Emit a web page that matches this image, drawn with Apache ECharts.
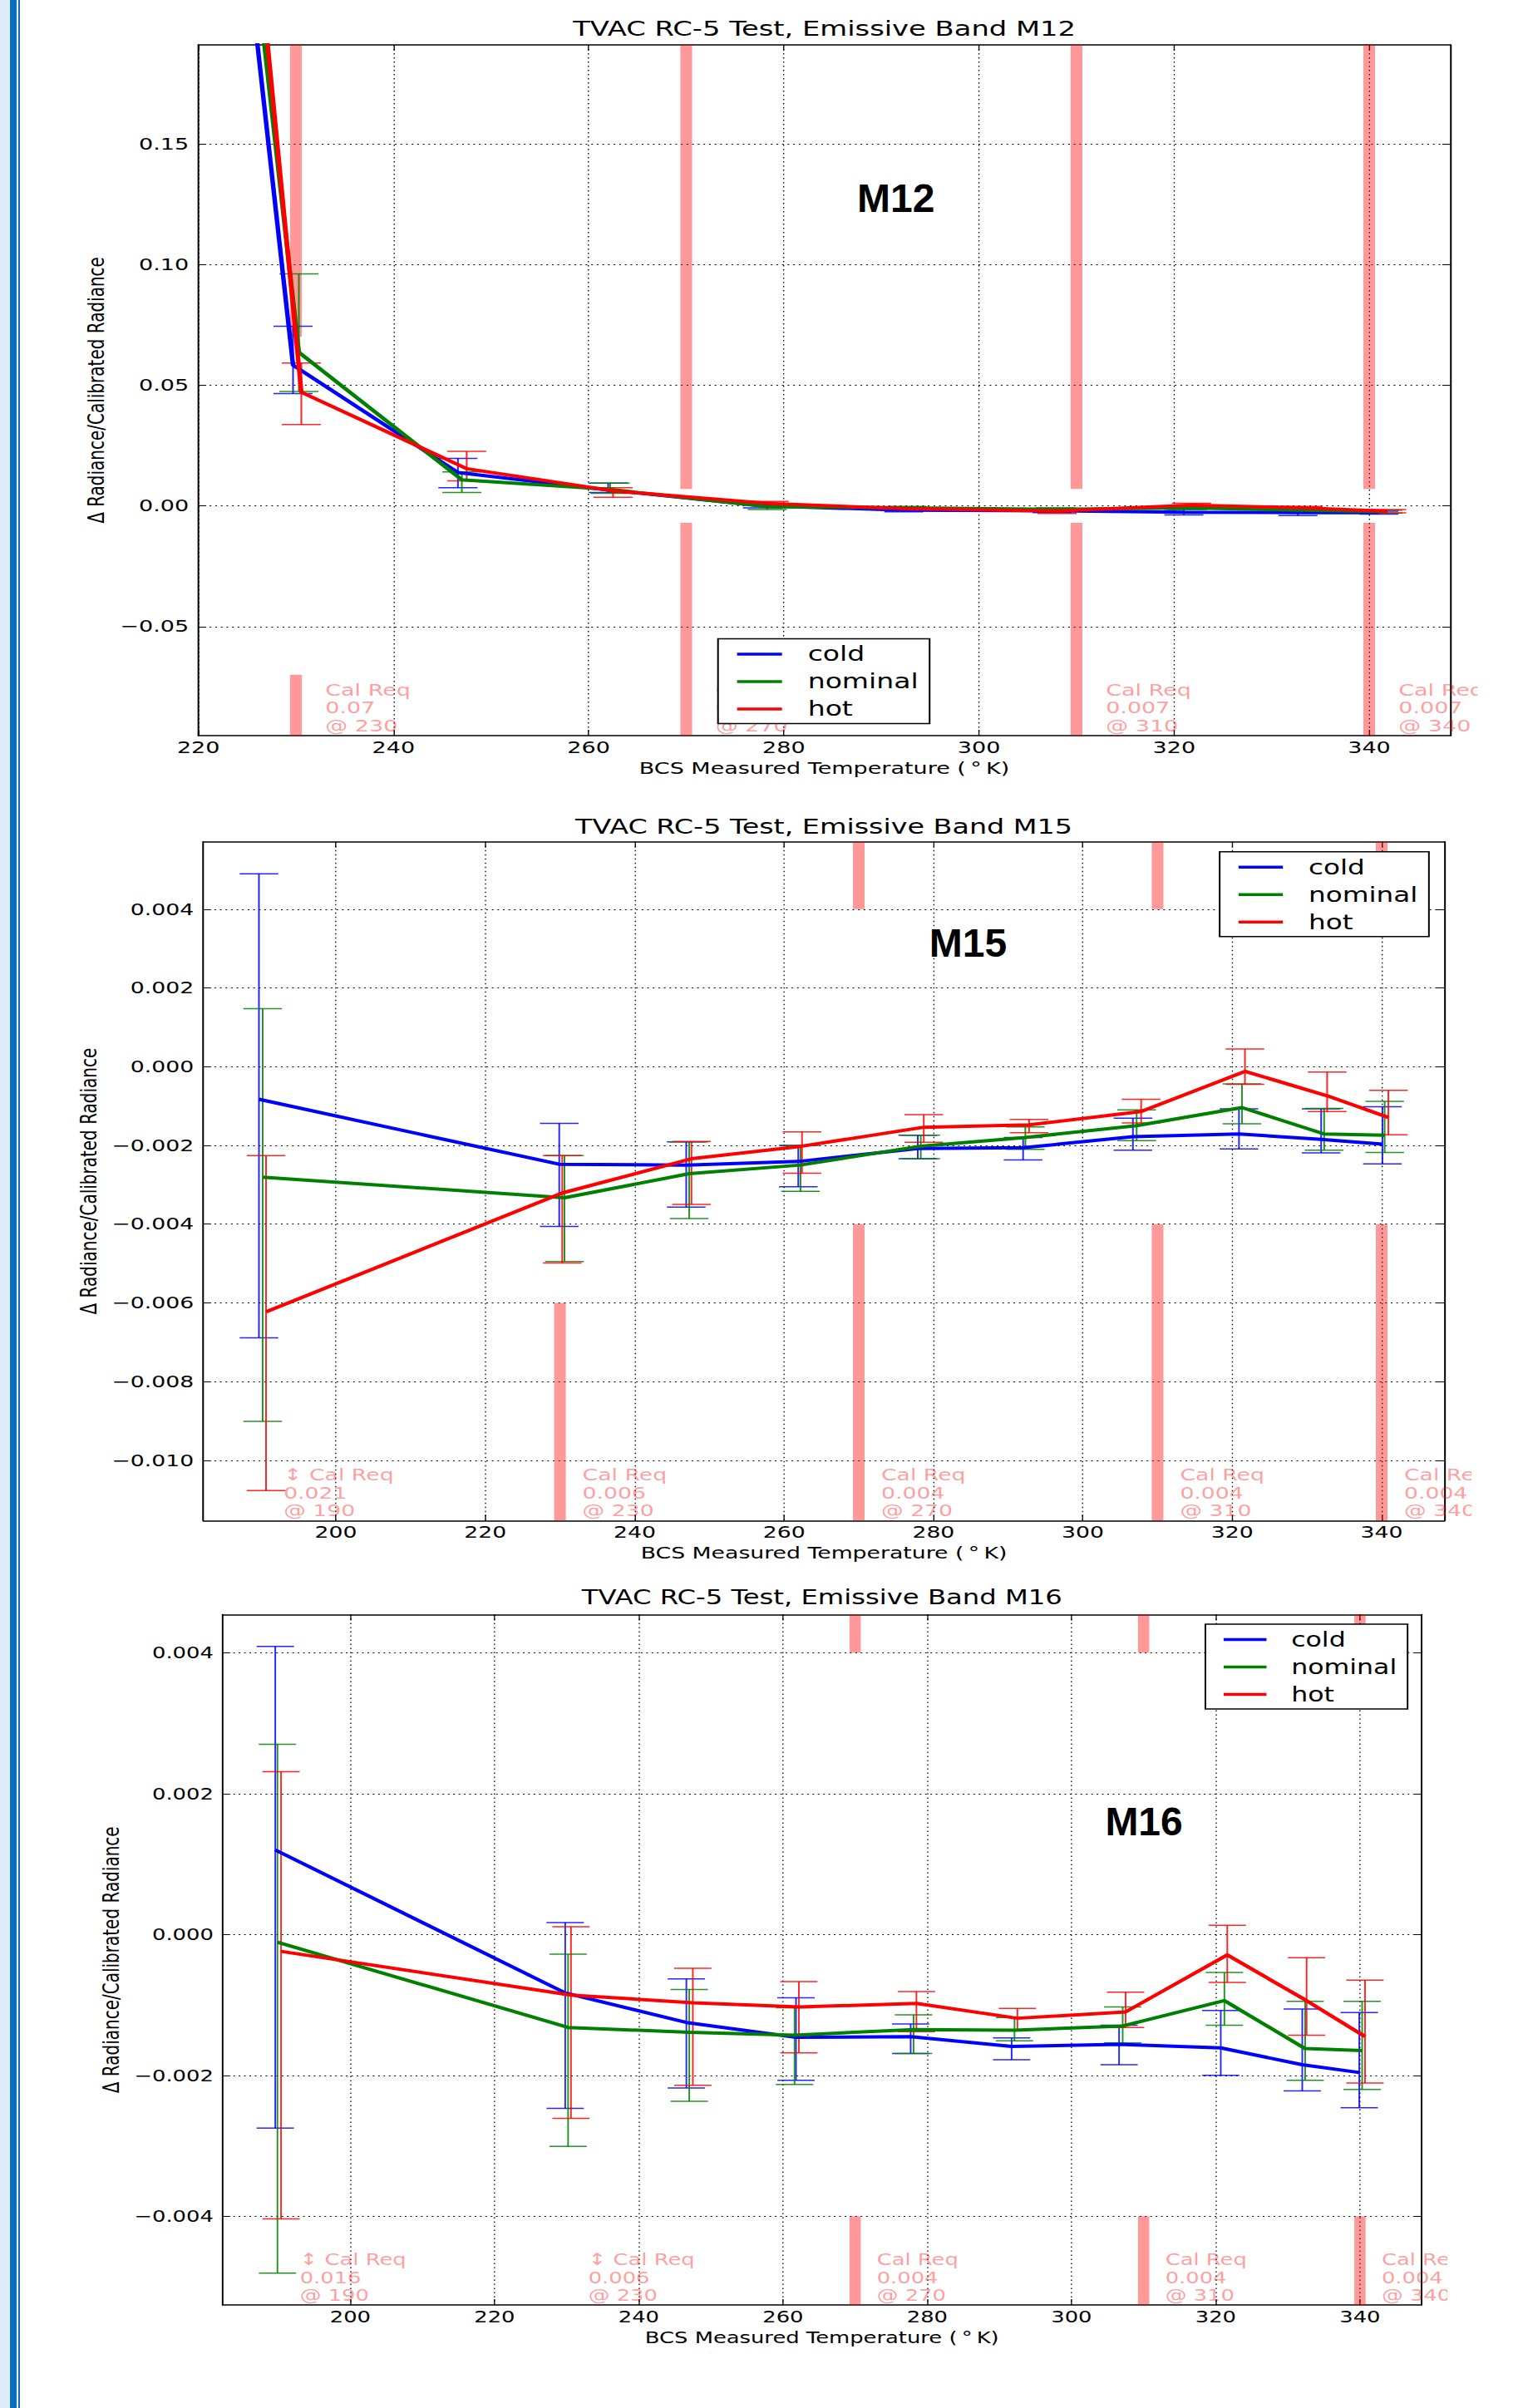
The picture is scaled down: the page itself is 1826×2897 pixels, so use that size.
<!DOCTYPE html>
<html>
<head>
<meta charset="utf-8">
<script src="https://cdn.jsdelivr.net/npm/echarts@6/dist/echarts.min.js"></script>
<style>
html, body { margin: 0; padding: 0; background: #fff; width: 1826px; height: 2897px; overflow: hidden; position: relative; }
.strip1 { position: absolute; left: 0; top: 0; width: 12px; height: 2897px; background: #dcecfb; }
.strip2 { position: absolute; left: 12px; top: 0; width: 7.5px; height: 2897px; background: #0b6fc0; }
.strip3 { position: absolute; left: 21.5px; top: 0; width: 2.5px; height: 2897px; background: #0b6fc0; }
.chart { position: absolute; left: 24px; transform-origin: 0 0; overflow: hidden; }
</style>
</head>
<body>
<div class="strip1"></div><div class="strip2"></div><div class="strip3"></div>
<div id="c1" class="chart"></div>
<div id="c2" class="chart"></div>
<div id="c3" class="chart"></div>
<script>
// ---------------- DATA ----------------
const seriesNames = ['cold', 'nominal', 'hot'];

// Band M12
const m12Title = 'TVAC RC-5 Test, Emissive Band M12';
const m12XTicks = [220, 240, 260, 280, 300, 320, 340];
const m12YTicks = [-0.05, 0, 0.05, 0.10, 0.15];
const m12ColdX  = [225.4, 229.7, 246.6, 262.0, 277.8, 292.3, 307.5, 321.0, 332.7, 341.0];
const m12ColdY  = [0.215, 0.0583, 0.0138, 0.0066, 0.0000, -0.0018, -0.0020, -0.0026, -0.0028, -0.0028];
const m12ColdLo = [0.200, 0.0465, 0.0075, 0.0055, -0.0008, -0.0025, -0.0028, -0.0038, -0.0040, -0.0034];
const m12ColdHi = [0.230, 0.0744, 0.0197, 0.0094, 0.0008, -0.0011, -0.0012, -0.0014, -0.0016, -0.0022];
const m12NomX   = [225.8, 230.3, 247.0, 262.2, 278.3, 292.6, 307.8, 321.4, 333.0, 341.4];
const m12NomY   = [0.226, 0.0636, 0.0108, 0.0068, -0.0003, -0.0008, -0.0014, -0.0008, -0.0018, -0.0024];
const m12NomLo  = [0.210, 0.0474, 0.0055, 0.0052, -0.0015, -0.0014, -0.0020, -0.0015, -0.0024, -0.0030];
const m12NomHi  = [0.242, 0.0961, 0.0141, 0.0094, 0.0005, -0.0002, -0.0008, -0.0001, -0.0012, -0.0018];
const m12HotX   = [226.0, 230.55, 247.5, 262.5, 278.5, 292.8, 308.0, 321.8, 333.2, 341.8];
const m12HotY   = [0.237, 0.0471, 0.0154, 0.0062, 0.0010, -0.0012, -0.0021, 0.0003, -0.0008, -0.0022];
const m12HotLo  = [0.220, 0.0337, 0.0104, 0.0036, 0.0002, -0.0018, -0.0032, -0.0005, -0.0014, -0.0029];
const m12HotHi  = [0.254, 0.0592, 0.0226, 0.0075, 0.0018, -0.0006, -0.0010, 0.0011, -0.0002, -0.0015];
const m12ReqT   = [230, 270, 310, 340];
const m12ReqV   = [0.07, 0.007, 0.007, 0.007];

// Band M15
const m15Title = 'TVAC RC-5 Test, Emissive Band M15';
const m15XTicks = [200, 220, 240, 260, 280, 300, 320, 340];
const m15YTicks = [-0.010, -0.008, -0.006, -0.004, -0.002, 0, 0.002, 0.004];
const m15ColdX  = [189.7, 229.9, 246.9, 261.9, 277.9, 292.0, 306.7, 320.9, 331.9, 340.1];
const m15ColdY  = [-0.00083, -0.00248, -0.00250, -0.00241, -0.00208, -0.00206, -0.00178, -0.00171, -0.00185, -0.00197];
const m15ColdLo = [-0.00689, -0.00406, -0.00357, -0.00305, -0.00234, -0.00237, -0.00212, -0.00209, -0.00219, -0.00247];
const m15ColdHi = [0.00490, -0.00144, -0.00191, -0.00200, -0.00174, -0.00180, -0.00131, -0.00107, -0.00107, -0.00102];
const m15NomX   = [190.2, 230.6, 247.3, 262.2, 278.3, 292.3, 307.2, 321.3, 332.3, 340.4];
const m15NomY   = [-0.00281, -0.00333, -0.00272, -0.00250, -0.00202, -0.00180, -0.00150, -0.00104, -0.00171, -0.00174];
const m15NomLo  = [-0.00901, -0.00495, -0.00386, -0.00317, -0.00234, -0.00210, -0.00188, -0.00145, -0.00212, -0.00218];
const m15NomHi  = [0.00147, -0.00226, -0.00191, -0.00200, -0.00174, -0.00153, -0.00110, -0.00044, -0.00106, -0.00088];
const m15HotX   = [190.65, 230.3, 247.6, 262.4, 278.7, 292.8, 307.8, 321.7, 332.7, 340.9];
const m15HotY   = [-0.00623, -0.00321, -0.00234, -0.00202, -0.00154, -0.00148, -0.00114, -0.00012, -0.00074, -0.00129];
const m15HotLo  = [-0.01077, -0.00499, -0.00350, -0.00271, -0.00192, -0.00168, -0.00143, -0.00045, -0.00114, -0.00173];
const m15HotHi  = [-0.00226, -0.00226, -0.00190, -0.00166, -0.00122, -0.00134, -0.00083, 0.00045, -0.00014, -0.00060];
const m15ReqT   = [190, 230, 270, 310, 340];
const m15ReqV   = [0.021, 0.006, 0.004, 0.004, 0.004];

// Band M16
const m16Title = 'TVAC RC-5 Test, Emissive Band M16';
const m16XTicks = [200, 220, 240, 260, 280, 300, 320, 340];
const m16YTicks = [-0.004, -0.002, 0, 0.002, 0.004];
const m16ColdX  = [189.6, 229.8, 246.6, 261.8, 277.7, 291.7, 306.6, 320.7, 332.0, 339.9];
const m16ColdY  = [0.00120, -0.00083, -0.00125, -0.00146, -0.00145, -0.00159, -0.00156, -0.00161, -0.00185, -0.00196];
const m16ColdLo = [-0.00275, -0.00247, -0.00218, -0.00207, -0.00169, -0.00178, -0.00185, -0.00200, -0.00222, -0.00246];
const m16ColdHi = [0.00409, 0.00017, -0.00063, -0.00090, -0.00127, -0.00147, -0.00129, -0.00108, -0.00106, -0.00111];
const m16NomX   = [189.9, 230.2, 247.0, 261.6, 278.1, 292.1, 307.1, 321.2, 332.4, 340.3];
const m16NomY   = [-0.00011, -0.00132, -0.00139, -0.00143, -0.00135, -0.00136, -0.00130, -0.00094, -0.00162, -0.00165];
const m16NomLo  = [-0.00481, -0.00301, -0.00237, -0.00213, -0.00169, -0.00151, -0.00154, -0.00129, -0.00207, -0.00220];
const m16NomHi  = [0.00270, -0.00028, -0.00078, -0.00104, -0.00114, -0.00118, -0.00103, -0.00054, -0.00095, -0.00095];
const m16HotX   = [190.4, 230.6, 247.5, 262.2, 278.5, 292.5, 307.5, 321.6, 332.6, 340.7];
const m16HotY   = [-0.00024, -0.00086, -0.00097, -0.00103, -0.00098, -0.00119, -0.00110, -0.00029, -0.00094, -0.00145];
const m16HotLo  = [-0.00404, -0.00261, -0.00214, -0.00168, -0.00138, -0.00135, -0.00132, -0.00068, -0.00143, -0.00211];
const m16HotHi  = [0.00231, 0.00011, -0.00048, -0.00067, -0.00081, -0.00105, -0.00082, 0.00013, -0.00033, -0.00065];
const m16ReqT   = [190, 230, 270, 310, 340];
const m16ReqV   = [0.016, 0.006, 0.004, 0.004, 0.004];

const xAxisName = 'BCS Measured Temperature (\u2009\u00b0\u2009K)';
const yAxisName = '\u0394 Radiance/Calibrated Radiance';

// ---------------- STYLE ----------------
const COLORS = { cold: '#0000ff', nominal: '#008000', hot: '#ff0000' };
const FONT = 'DejaVu Sans';
const REQ_COLOR = 'rgba(255,0,0,0.4)';

function fmtTick(v, d) {
  if (Math.abs(v) < 1e-12) v = 0;
  return (v < 0 ? '\u2212' : '') + Math.abs(v).toFixed(d);
}

function errRender(color, capHalf, yMin, yMax) {
  return function (params, api) {
    const x = api.value(0), lo = api.value(1), hi = api.value(2);
    const cLo = Math.max(lo, yMin), cHi = Math.min(hi, yMax);
    if (cLo > cHi) return null;
    const p1 = api.coord([x, cLo]), p2 = api.coord([x, cHi]);
    const st = { stroke: color, lineWidth: 1.5, opacity: 0.85 };
    const ch = [{ type: 'line', shape: { x1: p1[0], y1: p1[1], x2: p2[0], y2: p2[1] }, style: st }];
    if (lo >= yMin) ch.push({ type: 'line', shape: { x1: p1[0] - capHalf, y1: p1[1], x2: p1[0] + capHalf, y2: p1[1] }, style: st });
    if (hi <= yMax) ch.push({ type: 'line', shape: { x1: p2[0] - capHalf, y1: p2[1], x2: p2[0] + capHalf, y2: p2[1] }, style: st });
    return { type: 'group', children: ch };
  };
}

function reqBarRender(yMin, yMax, w) {
  return function (params, api) {
    const t = api.value(0), v = api.value(1);
    const ch = [];
    if (v < yMax) {
      const a = api.coord([t, yMax]), b = api.coord([t, v]);
      ch.push({ type: 'rect', shape: { x: a[0] - w / 2, y: a[1], width: w, height: b[1] - a[1] }, style: { fill: REQ_COLOR } });
    }
    if (-v > yMin) {
      const a = api.coord([t, -v]), b = api.coord([t, yMin]);
      ch.push({ type: 'rect', shape: { x: a[0] - w / 2, y: a[1], width: w, height: b[1] - a[1] }, style: { fill: REQ_COLOR } });
    }
    return { type: 'group', children: ch };
  };
}

function reqTextRender(yMin, yMax) {
  return function (params, api) {
    const t = api.value(0), v = api.value(1);
    const p = api.coord([t + 3, yMin]);
    const out = v >= yMax && -v <= yMin;
    const txt = (out ? '\u2195 ' : '') + 'Cal Req\n' + String(v) + '\n@ ' + t;
    return {
      type: 'text', x: p[0], y: p[1] - 1,
      style: {
        text: txt, fill: REQ_COLOR, fontSize: 20, fontFamily: FONT, lineHeight: 21.5,
        align: 'left', verticalAlign: 'bottom', textAlign: 'left', textVerticalAlign: 'bottom'
      }
    };
  };
}

function build(cfg) {
  const el = document.getElementById(cfg.id);
  el.style.top = cfg.divTop + 'px';
  el.style.width = cfg.divW + 'px';
  el.style.height = cfg.divH + 'px';
  el.style.transform = 'scaleX(' + cfg.s + ')';
  const chart = echarts.init(el, null, { renderer: 'svg', width: cfg.divW, height: cfg.divH });

  const gridLine = { show: true, lineStyle: { color: '#000', width: 1, type: [1.5, 3.5] } };
  const tick = vals => ({ show: true, inside: true, length: 7, lineStyle: { color: '#000', width: 1 }, customValues: vals });
  const axisLine = { show: true, onZero: false, lineStyle: { color: '#000', width: 1.5 } };
  const labelBase = { fontFamily: FONT, fontSize: 20, color: '#000' };

  const series = [];
  series.push({
    type: 'custom', name: 'req bars', silent: true, z: 1,
    data: cfg.reqT.map((t, i) => [t, cfg.reqV[i]]),
    encode: { x: 0, y: 1 },
    renderItem: reqBarRender(cfg.yMin, cfg.yMax, 10.5)
  });
  series.push({
    type: 'custom', name: 'req text', silent: true, z: 1, clip: false,
    data: cfg.reqT.map((t, i) => [t, cfg.reqV[i]]),
    encode: { x: 0, y: 1 },
    renderItem: reqTextRender(cfg.yMin, cfg.yMax)
  });
  cfg.data.forEach((d, k) => {
    const name = seriesNames[k];
    const color = COLORS[name];
    series.push({
      type: 'custom', name: name + ' error', silent: true, z: 3,
      data: d.x.map((x, i) => [x, d.lo[i], d.hi[i]]),
      encode: { x: 0, y: [1, 2] },
      renderItem: errRender(color, 17.4, cfg.yMin, cfg.yMax)
    });
    series.push({
      type: 'line', name: name, z: 3,
      data: d.x.map((x, i) => [x, d.y[i]]),
      showSymbol: false, symbol: 'none',
      lineStyle: { color: color, width: 4 },
      itemStyle: { color: color },
      clip: true
    });
  });

  chart.setOption({
    animation: false,
    backgroundColor: 'transparent',
    title: {
      text: cfg.title, left: cfg.titleX, top: cfg.titleTop, textAlign: 'center', padding: 0,
      textStyle: { fontFamily: FONT, fontSize: 25, fontWeight: 'normal', color: '#000' }
    },
    grid: { left: cfg.gridLeft, top: cfg.gridTop, width: cfg.gridW, height: cfg.gridH, containLabel: false },
    xAxis: [
      {
        type: 'value', min: cfg.xMin, max: cfg.xMax, position: 'bottom',
        axisLine, axisTick: tick(cfg.xTicks), splitLine: gridLine,
        axisLabel: Object.assign({ customValues: cfg.xTicks, margin: 4, formatter: v => String(v) }, labelBase),
        name: xAxisName, nameLocation: 'middle', nameGap: cfg.xNameGap,
        nameTextStyle: { fontFamily: FONT, fontSize: 20, color: '#000' }
      },
      {
        type: 'value', min: cfg.xMin, max: cfg.xMax, position: 'top',
        axisLine, axisTick: tick(cfg.xTicks), splitLine: { show: false }, axisLabel: { show: false }
      }
    ],
    yAxis: [
      {
        type: 'value', min: cfg.yMin, max: cfg.yMax, position: 'left',
        axisLine, axisTick: tick(cfg.yTicks), splitLine: gridLine,
        axisLabel: Object.assign({ customValues: cfg.yTicks, margin: 8.5, formatter: v => fmtTick(v, cfg.dec) }, labelBase),
        name: yAxisName, nameLocation: 'middle', nameRotate: 90, nameGap: cfg.yNameGap,
        nameTextStyle: { fontFamily: FONT, fontSize: 20, color: '#000' }
      },
      {
        type: 'value', min: cfg.yMin, max: cfg.yMax, position: 'right',
        axisLine, axisTick: tick(cfg.yTicks), splitLine: { show: false }, axisLabel: { show: false }
      }
    ],
    legend: {
      data: seriesNames, orient: 'vertical', left: cfg.legLeft, top: cfg.legTop,
      icon: 'rect', itemWidth: 40, itemHeight: 3.5, itemGap: 8,
      padding: [6, 10, 5, 17], borderColor: '#000', borderWidth: 1.5, backgroundColor: '#fff',
      selectedMode: false, z: 10,
      formatter: n => '{t|' + n + '}',
      textStyle: { fontFamily: FONT, fontSize: 24.5, color: '#000', rich: { t: { fontFamily: FONT, fontSize: 24.5, color: '#000', lineHeight: 26, padding: [0, 0, 0, 18] } } }
    },
    graphic: [{
      type: 'text', x: cfg.labX, y: cfg.labY, scaleX: 1 / cfg.s, z: 5,
      style: { text: cfg.label, fontFamily: 'Liberation Sans', fontWeight: 'bold', fontSize: 48, fill: '#000',
               align: 'center', verticalAlign: 'middle', textAlign: 'center', textVerticalAlign: 'middle' }
    }],
    series
  });
}

build({
  id: 'c1', s: 1.35, divTop: 0, divW: 1299.3, divH: 960,
  gridLeft: 159.0, gridTop: 54, gridW: 1115.4, gridH: 831,
  xMin: 220, xMax: 348.3, yMin: -0.0952, yMax: 0.191, dec: 2,
  xTicks: m12XTicks, yTicks: m12YTicks, title: m12Title, titleX: 716.7, titleTop: 22,
  xNameGap: 27, yNameGap: 81, legLeft: 622, legTop: 768.5,
  label: 'M12', labX: 780.6, labY: 238.2,
  reqT: m12ReqT, reqV: m12ReqV,
  data: [
    { x: m12ColdX, y: m12ColdY, lo: m12ColdLo, hi: m12ColdHi },
    { x: m12NomX, y: m12NomY, lo: m12NomLo, hi: m12NomHi },
    { x: m12HotX, y: m12HotY, lo: m12HotLo, hi: m12HotHi }
  ]
});

build({
  id: 'c2', s: 1.335, divTop: 960, divW: 1307.9, divH: 940,
  gridLeft: 165.2, gridTop: 52.8, gridW: 1118.3, gridH: 816.5,
  xMin: 182.25, xMax: 348.4, yMin: -0.01153, yMax: 0.00571, dec: 3,
  xTicks: m15XTicks, yTicks: m15YTicks, title: m15Title, titleX: 724.4, titleTop: 22,
  xNameGap: 27, yNameGap: 93, legLeft: 1081, legTop: 64.7,
  label: 'M15', labX: 854.3, labY: 174.5,
  reqT: m15ReqT, reqV: m15ReqV,
  data: [
    { x: m15ColdX, y: m15ColdY, lo: m15ColdLo, hi: m15ColdHi },
    { x: m15NomX, y: m15NomY, lo: m15NomLo, hi: m15NomHi },
    { x: m15HotX, y: m15HotY, lo: m15HotLo, hi: m15HotHi }
  ]
});

build({
  id: 'c3', s: 1.29, divTop: 1900, divW: 1331, divH: 997,
  gridLeft: 189.0, gridTop: 42.6, gridW: 1117.7, gridH: 830.4,
  xMin: 182.3, xMax: 348.5, yMin: -0.00526, yMax: 0.00454, dec: 3,
  xTicks: m16XTicks, yTicks: m16YTicks, title: m16Title, titleX: 747.9, titleTop: 9,
  xNameGap: 27, yNameGap: 94, legLeft: 1105.4, legTop: 54,
  label: 'M16', labX: 1048.1, labY: 291.5,
  reqT: m16ReqT, reqV: m16ReqV,
  data: [
    { x: m16ColdX, y: m16ColdY, lo: m16ColdLo, hi: m16ColdHi },
    { x: m16NomX, y: m16NomY, lo: m16NomLo, hi: m16NomHi },
    { x: m16HotX, y: m16HotY, lo: m16HotLo, hi: m16HotHi }
  ]
});
</script>
</body>
</html>
